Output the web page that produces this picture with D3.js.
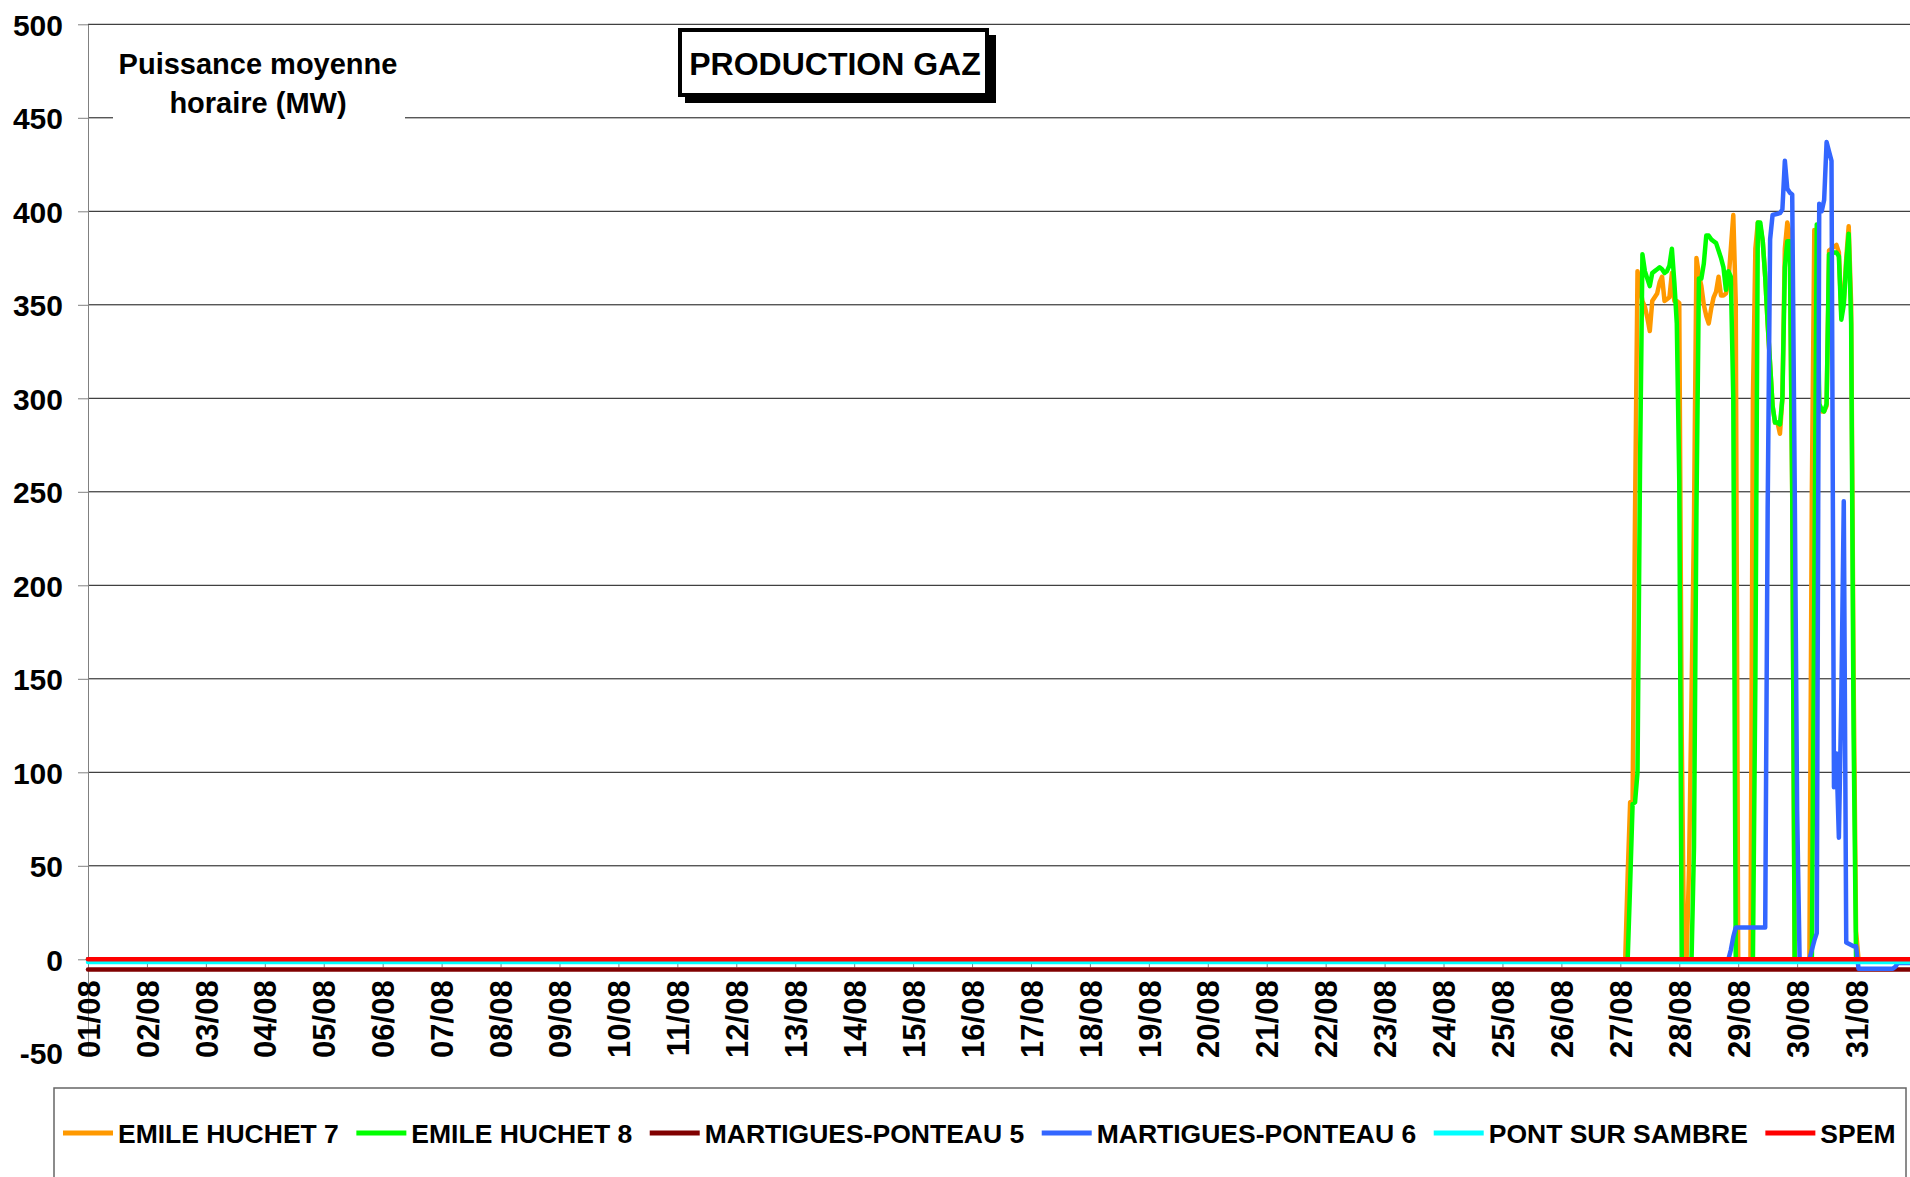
<!DOCTYPE html>
<html>
<head>
<meta charset="utf-8">
<script src="https://cdn.jsdelivr.net/npm/d3@7"></script>
<style>
  body { margin: 0; background: #fff; }
  svg { display: block; font-family: "Liberation Sans", Arial, sans-serif; font-weight: bold; }
</style>
</head>
<body>
<svg id="chart" width="1910" height="1177"></svg>
<script>
//Series names and colours, in legend order
let seriesNames = ["EMILE HUCHET 7", "EMILE HUCHET 8", "MARTIGUES-PONTEAU 5", "MARTIGUES-PONTEAU 6", "PONT SUR SAMBRE", "SPEM"];
let seriesColors = ["#ff9900", "#00ff00", "#800000", "#3366ff", "#00ffff", "#ff0000"];
//Y axis tick values (MW)
let yTicks = [-50, 0, 50, 100, 150, 200, 250, 300, 350, 400, 450, 500];

//Hourly readings as [day of August, hour, MW]; flat stretches are kept to their end points
let emileHuchet7 = [
  [1,0,0],[27,2,0],[27,3,45],[27,4,84],[27,5,85],[27,6,240],[27,7,368],[27,8,360],[27,9,352],[27,10,349],[27,11,343],
  [27,12,336],[27,13,352],[27,14,354],[27,15,356],[27,16,362],[27,17,365],[27,18,352],[27,19,353],[27,20,354],
  [27,21,367],[27,22,352],[27,23,352],[28,0,351],[28,1,120],[28,2,0],[28,3,0],[28,4,50],[28,5,140],[28,6,235],
  [28,7,375],[28,8,366],[28,9,360],[28,10,350],[28,11,344],[28,12,340],[28,13,348],[28,14,354],[28,15,357],
  [28,16,365],[28,17,355],[28,18,355],[28,19,356],[28,20,362],[28,21,380],[28,22,398],[28,23,352],[29,0,0],
  [29,5,0],[29,6,300],[29,7,380],[29,8,394],[29,9,392],[29,10,384],[29,11,365],[29,12,340],[29,13,318],[29,14,296],
  [29,15,287],[29,16,287],[29,17,281],[29,18,300],[29,19,380],[29,20,394],[29,21,388],[29,22,250],[29,23,0],
  [30,5,0],[30,6,250],[30,7,390],[30,8,360],[30,9,295],[30,10,293],[30,11,293],[30,12,296],[30,13,379],[30,14,380],
  [30,15,381],[30,16,382],[30,17,378],[30,18,345],[30,19,352],[30,20,375],[30,21,392],[30,22,350],[30,23,150],
  [31,0,15],[31,1,0],[31,23,0]
];
let emileHuchet8 = [
  [1,0,0],[27,3,0],[27,4,40],[27,5,83],[27,6,84],[27,7,100],[27,8,260],[27,9,377],[27,10,368],[27,11,364],
  [27,12,360],[27,13,367],[27,14,368],[27,15,369],[27,16,370],[27,17,369],[27,18,367],[27,19,368],[27,20,371],
  [27,21,380],[27,22,362],[27,23,340],[28,0,256],[28,1,0],[28,5,0],[28,6,60],[28,7,240],[28,8,364],[28,9,364],
  [28,10,372],[28,11,387],[28,12,387],[28,13,385],[28,14,384],[28,15,383],[28,16,379],[28,17,375],[28,18,370],
  [28,19,358],[28,20,368],[28,21,365],[28,22,300],[28,23,0],[29,6,0],[29,7,150],[29,8,394],[29,9,394],[29,10,384],
  [29,11,365],[29,12,340],[29,13,318],[29,14,296],[29,15,287],[29,16,287],[29,17,286],[29,18,300],[29,19,370],
  [29,20,384],[29,21,384],[29,22,250],[29,23,0],[30,6,0],[30,7,200],[30,8,393],[30,9,297],[30,10,294],[30,11,293],
  [30,12,297],[30,13,377],[30,14,377],[30,15,378],[30,16,378],[30,17,376],[30,18,342],[30,19,350],[30,20,372],
  [30,21,388],[30,22,340],[30,23,120],[31,0,0],[31,23,0]
];
let martiguesPonteau5 = [[1,0,-5.5],[31,23,-5.5]];
let martiguesPonteau6 = [
  [1,0,0],[28,20,0],[28,21,5],[28,22,12],[28,23,17],[29,11,17],[29,12,240],[29,13,385],[29,14,398],[29,17,399],
  [29,18,401],[29,19,427],[29,20,412],[29,21,410],[29,22,409],[29,23,256],[30,0,80],[30,1,0],[30,5,0],[30,6,5],
  [30,7,10],[30,8,14],[30,9,404],[30,10,400],[30,11,406],[30,12,437],[30,13,432],[30,14,427],[30,15,92],[30,16,110],
  [30,17,65],[30,18,140],[30,19,245],[30,20,9],[30,23,7],[31,0,7],[31,1,-5],[31,15,-5],[31,16,-4],[31,17,-2],[31,23,-2]
];
let pontSurSambre = [[1,0,-1.5],[31,23,-1.5]];
let spem = [[1,0,0],[31,23,0]];

let seriesData = [emileHuchet7, emileHuchet8, martiguesPonteau5, martiguesPonteau6, pontSurSambre, spem];

//Get the svg element and set up scales
let svg = d3.select("#chart");
let x = d3.scaleUtc().domain([Date.UTC(2009, 7, 1), Date.UTC(2009, 8, 1)]).range([88, 1915]);
let y = d3.scaleLinear().domain([-50, 500]).range([1052.8, 24.3]);

//horizontal gridlines
svg.append("g").selectAll("line")
  .data(yTicks.filter(function (d) { return d > -50; }))
  .enter().append("line")
  .attr("x1", 88).attr("x2", 1910)
  .attr("y1", function (d) { return y(d); })
  .attr("y2", function (d) { return y(d); })
  .attr("stroke", "#111").attr("stroke-width", 1);

//y axis
let yAxis = svg.append("g").attr("transform", "translate(88,0)")
  .call(d3.axisLeft(y).tickValues(yTicks).tickSize(10).tickSizeOuter(0).tickPadding(15)
    .tickFormat(function (d) { return String(d); }));
yAxis.select(".domain").attr("stroke", "#808080");
yAxis.selectAll(".tick line").attr("stroke", "#808080");
yAxis.selectAll("text").attr("font-size", 30).attr("font-family", null).attr("fill", "#000").attr("dy", "0.36em");

//x axis (days), crossing at 0
let days = d3.utcDay.range(Date.UTC(2009, 7, 1), Date.UTC(2009, 7, 31, 1));
let xAxis = svg.append("g").attr("transform", "translate(0," + y(0) + ")")
  .call(d3.axisBottom(x).tickValues(days).tickSize(8).tickSizeOuter(0).tickFormat(d3.utcFormat("%d/%m")));
xAxis.select(".domain").attr("stroke", "#808080");
xAxis.selectAll(".tick line").attr("stroke", "#808080");
xAxis.selectAll("text")
  .attr("font-size", 31).attr("font-family", null).attr("fill", "#000")
  .attr("transform", "rotate(-90)")
  .attr("text-anchor", "end")
  .attr("x", -21).attr("y", 0).attr("dy", "0.36em");

//series lines
let line = d3.line()
  .x(function (d) { return x(Date.UTC(2009, 7, d[0], d[1])); })
  .y(function (d) { return y(d[2]); });

svg.append("g").selectAll("path")
  .data(seriesData)
  .enter().append("path")
  .attr("d", line)
  .attr("fill", "none")
  .attr("stroke", function (d, i) { return seriesColors[i]; })
  .attr("stroke-width", 4.5)
  .attr("stroke-linejoin", "round")
  .attr("stroke-linecap", "round");

//y axis title with its white box
svg.append("rect").attr("x", 113).attr("y", 36).attr("width", 292).attr("height", 90).attr("fill", "#fff");
svg.append("text").attr("x", 258).attr("y", 74).attr("text-anchor", "middle").attr("font-size", 29).text("Puissance moyenne");
svg.append("text").attr("x", 258).attr("y", 113).attr("text-anchor", "middle").attr("font-size", 29).text("horaire (MW)");

//chart title box with shadow
svg.append("rect").attr("x", 685).attr("y", 35).attr("width", 311).attr("height", 68).attr("fill", "#000");
svg.append("rect").attr("x", 680).attr("y", 30).attr("width", 307).attr("height", 65)
  .attr("fill", "#fff").attr("stroke", "#000").attr("stroke-width", 4);
svg.append("text").attr("x", 835).attr("y", 75).attr("text-anchor", "middle").attr("font-size", 32).text("PRODUCTION GAZ");

//legend
svg.append("rect").attr("x", 54).attr("y", 1088).attr("width", 1852).attr("height", 120)
  .attr("fill", "#fff").attr("stroke", "#666").attr("stroke-width", 1.5);
let legendX = 63;
let legendY = 1133;
seriesNames.forEach(function (name, i) {
  svg.append("line")
    .attr("x1", legendX).attr("x2", legendX + 50)
    .attr("y1", legendY).attr("y2", legendY)
    .attr("stroke", seriesColors[i]).attr("stroke-width", 5);
  let t = svg.append("text")
    .attr("x", legendX + 55).attr("y", legendY).attr("dy", "0.36em")
    .attr("font-size", 26.5).text(name);
  legendX = legendX + 55 + t.node().getComputedTextLength() + 17.5;
});
</script>
</body>
</html>
